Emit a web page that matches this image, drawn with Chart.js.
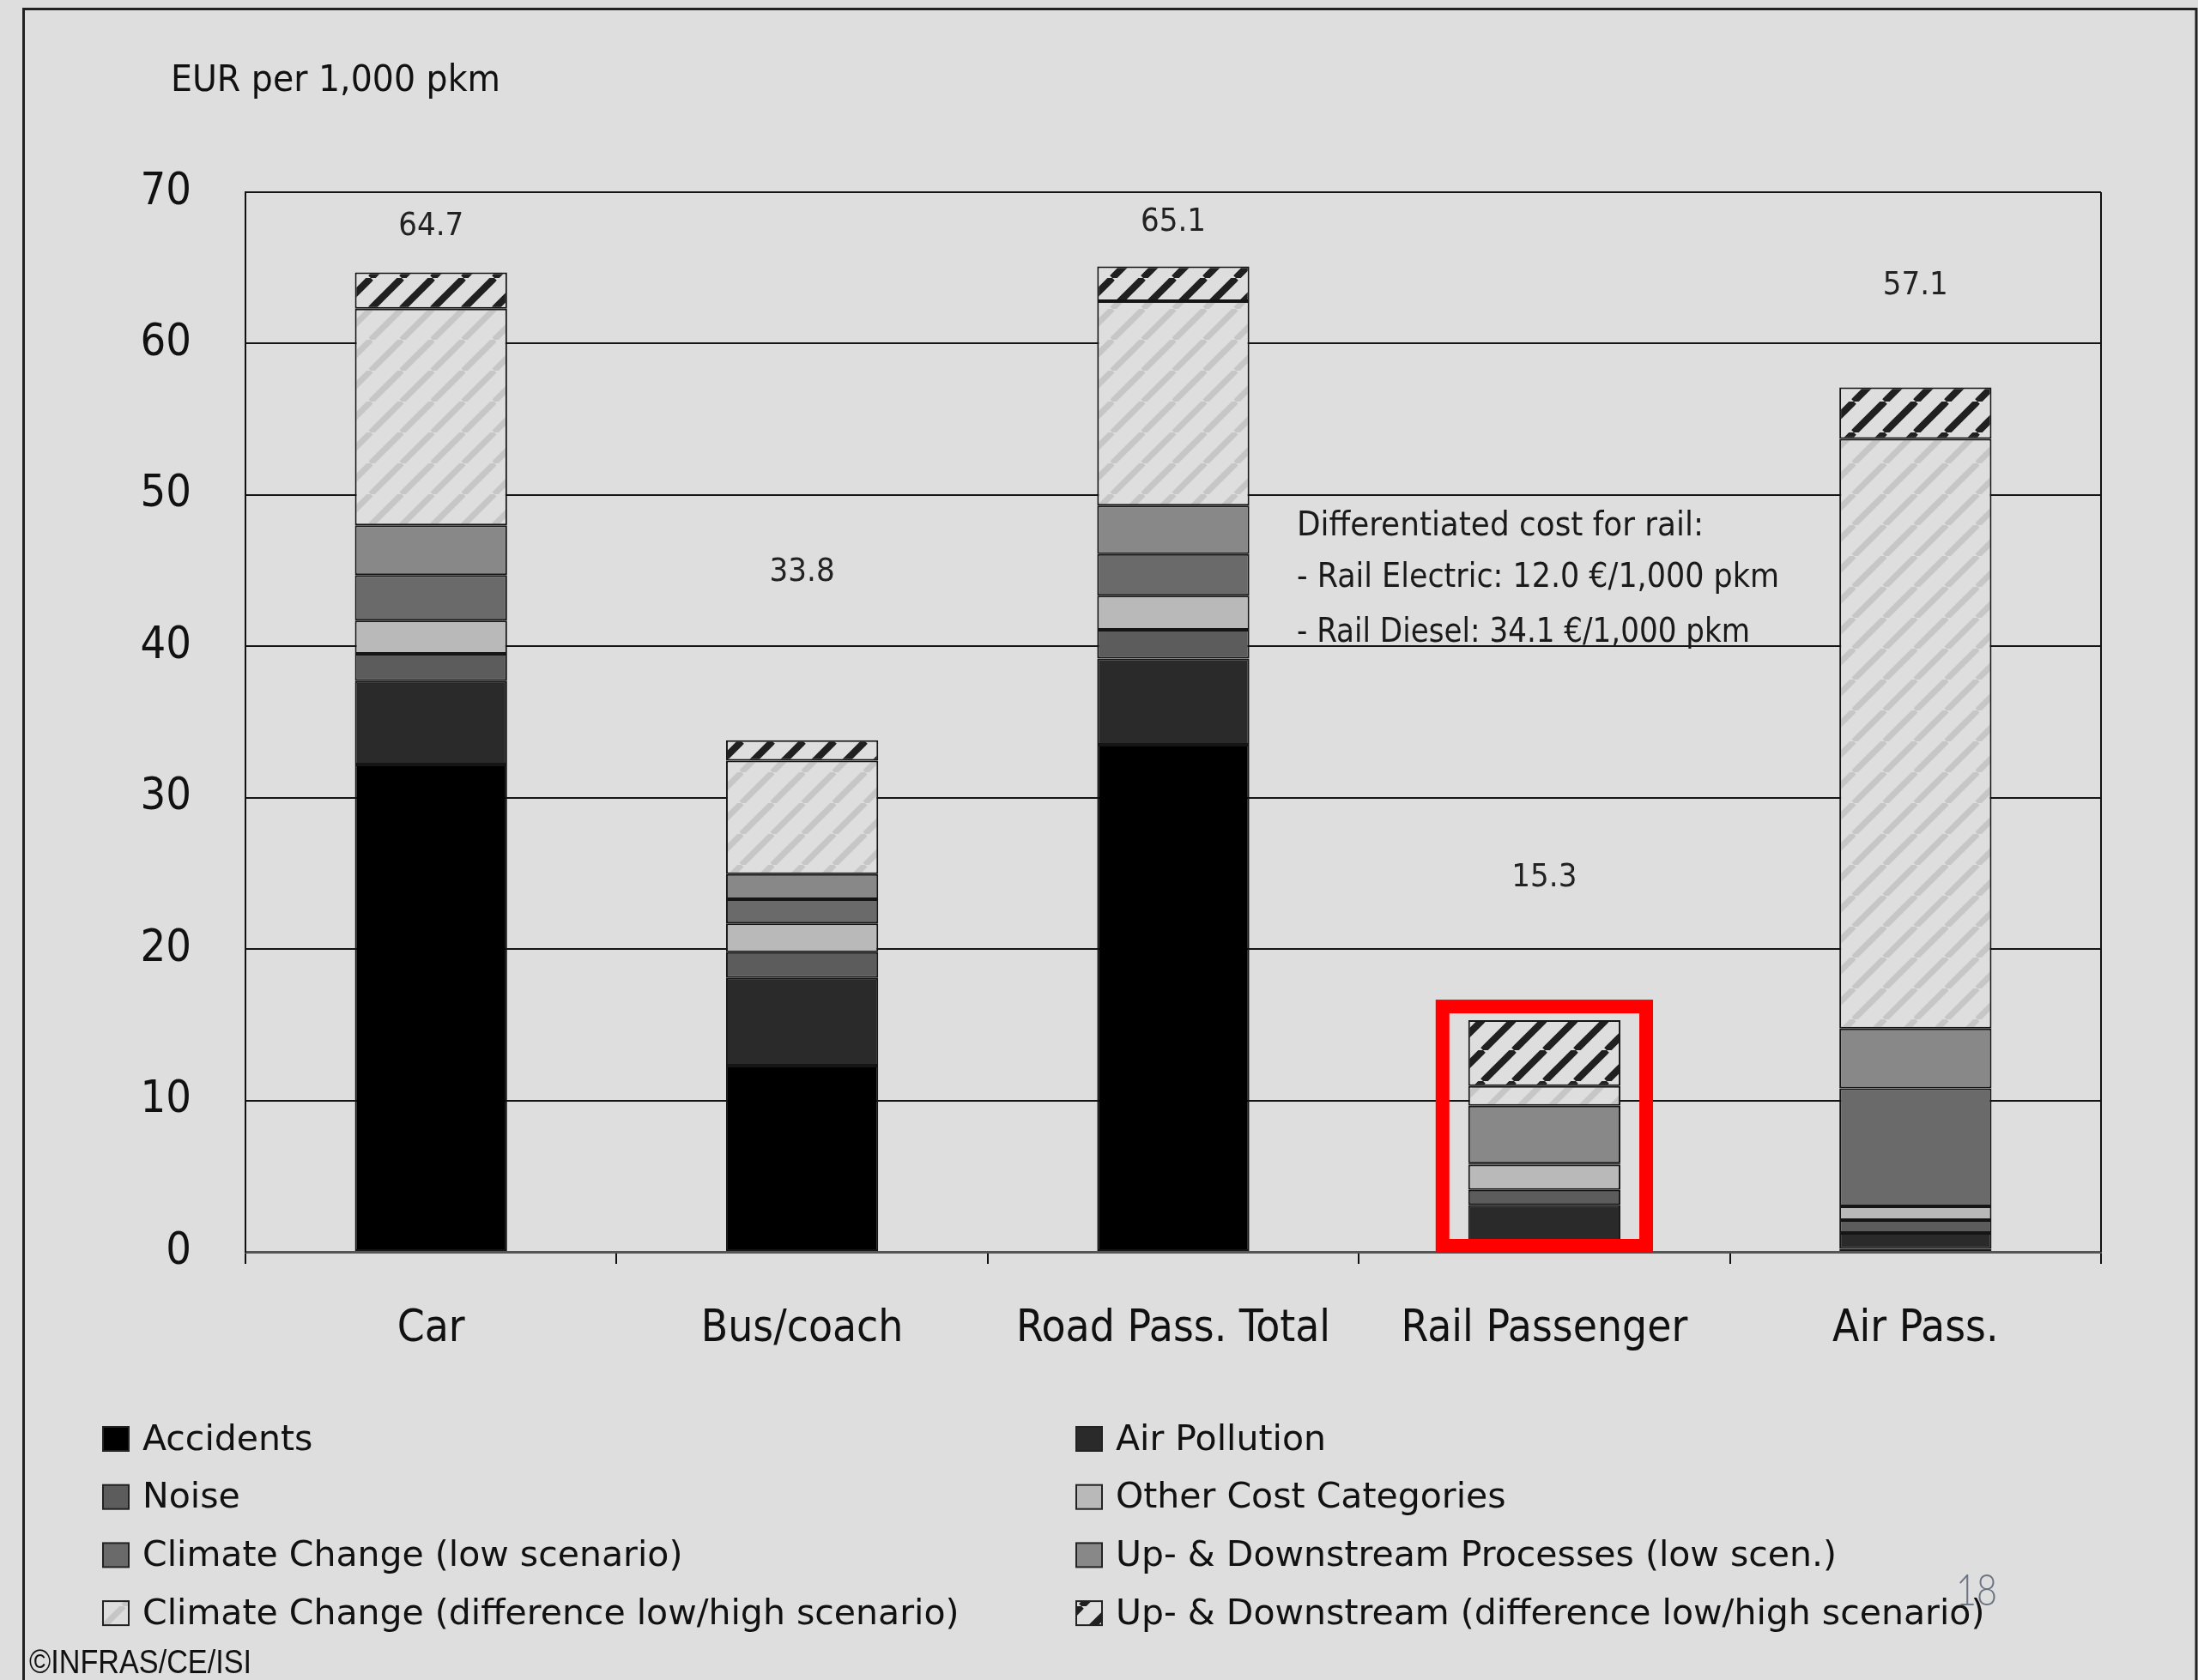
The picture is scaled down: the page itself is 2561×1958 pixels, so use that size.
<!DOCTYPE html>
<html>
<head>
<meta charset="utf-8">
<script src="https://cdn.jsdelivr.net/npm/chart.js@4.4.0/dist/chart.umd.min.js"></script>
<style>
    html, body { margin: 0; padding: 0; background: #dedede; }
    #wrap { width: 2561px; height: 1958px; position: relative; }
</style>
</head>
<body>
<div id="wrap"><canvas id="js-bar-chart" width="2561" height="1958"></canvas></div>
<script>
// EUR per 1,000 pkm, stacked bottom to top
const categories = ["Car", "Bus/coach", "Road Pass. Total", "Rail Passenger", "Air Pass."];
const accidents = [32.2, 12.3, 33.5, 0.5, 0.2];
const airPollution = [5.5, 5.8, 5.7, 2.6, 1.05];
const noise = [1.8, 1.7, 1.9, 1.0, 0.85];
const otherCosts = [2.2, 1.9, 2.25, 1.65, 0.9];
const climateLow = [3.0, 1.6, 2.75, 0.1, 7.8];
const upDownLow = [3.3, 1.65, 3.2, 3.8, 3.95];
const climateDiff = [14.3, 7.5, 13.5, 1.3, 38.95];
const upDownDiff = [2.4, 1.35, 2.3, 4.35, 3.4];
const yTicks = [0, 10, 20, 30, 40, 50, 60, 70];

// where the total labels sit (in axis units)
const totalLabelAt = [67.7, 44.9, 68.0, 24.7, 63.8];
const railNote = [
    "Differentiated cost for rail:",
    "- Rail Electric: 12.0 \u20ac/1,000 pkm",
    "- Rail Diesel: 34.1 \u20ac/1,000 pkm",
];

const FONT = '"DejaVu Sans Condensed", "Liberation Sans Narrow", "DejaVu Sans", sans-serif';
const WIDE = '"DejaVu Sans", Verdana, sans-serif';

const canvas = document.getElementById("js-bar-chart");
const ctx = canvas.getContext("2d");

const hatch = (bg, fg, lw) => {
    const s = 36;
    const c = document.createElement("canvas");
    c.width = s;
    c.height = s;
    const g = c.getContext("2d");
    g.fillStyle = bg;
    g.fillRect(0, 0, s, s);
    g.strokeStyle = fg;
    g.lineWidth = lw;
    for (const o of [-s, 0, s]) {
        g.beginPath();
        g.moveTo(o, s);
        g.lineTo(o + s, 0);
        g.stroke();
    }
    return ctx.createPattern(c, "repeat");
};

const series = [
    ["Accidents", accidents, "#000000"],
    ["Air Pollution", airPollution, "#2a2a2a"],
    ["Noise", noise, "#5c5c5c"],
    ["Other Cost Categories", otherCosts, "#b9b9b9"],
    ["Climate Change (low scenario)", climateLow, "#6a6a6a"],
    ["Up- & Downstream Processes (low scen.)", upDownLow, "#888888"],
    ["Climate Change (difference low/high scenario)", climateDiff, hatch("#dedede", "#c6c6c6", 7)],
    ["Up- & Downstream (difference low/high scenario)", upDownDiff, hatch("#dedede", "#202020", 8)],
];

// stretch or squeeze text horizontally to width w
const fitText = (c, text, x, y, w) => {
    const m = c.measureText(text).width;
    c.save();
    c.translate(x, y);
    if (w) c.scale(w / m, 1);
    c.fillText(text, 0, 0);
    c.restore();
};

const decor = {
    id: "decor",
    afterDatasetsDraw(chart) {
        const { ctx: c, chartArea: a, scales: { x, y } } = chart;
        const n = chart.data.datasets.length;
        c.save();

        // plot frame right side
        c.strokeStyle = "#111";
        c.lineWidth = 2;
        c.beginPath();
        c.moveTo(a.right, a.top);
        c.lineTo(a.right, a.bottom);
        c.stroke();

        // totals
        c.font = "38px " + FONT;
        c.fillStyle = "#222";
        c.textAlign = "center";
        c.textBaseline = "middle";
        categories.forEach((cat, i) => {
            const total = chart.data.datasets.reduce((s, d) => s + d.data[i], 0);
            c.fillText((Math.round(total * 10) / 10).toFixed(1), x.getPixelForValue(i), y.getPixelForValue(totalLabelAt[i]));
        });

        // note on rail
        c.textAlign = "left";
        c.textBaseline = "alphabetic";
        c.font = "39px " + FONT;
        c.fillStyle = "#1a1a1a";
        const nx = x.getPixelForValue(2) + 144;
        [47.35, 43.9, 40.3].forEach((v, i) => {
            fitText(c, railNote[i], nx, y.getPixelForValue(v), [474, 562, 528][i]);
        });

        // red frame around rail bar
        const bottomEl = chart.getDatasetMeta(0).data[3];
        const topEl = chart.getDatasetMeta(n - 1).data[3];
        const half = bottomEl.width / 2 + 30;
        c.strokeStyle = "#ff0000";
        c.lineWidth = 16;
        c.strokeRect(bottomEl.x - half, topEl.y - 16, half * 2, a.bottom - 7 - (topEl.y - 16));
        c.restore();
    },
    afterDraw(chart) {
        const c = chart.ctx;
        c.save();

        // outer frame
        c.strokeStyle = "#222";
        c.lineWidth = 3;
        c.beginPath();
        c.moveTo(27.5, 1958);
        c.lineTo(27.5, 10.5);
        c.lineTo(2559, 10.5);
        c.lineTo(2559, 1958);
        c.stroke();

        // axis unit
        c.fillStyle = "#111";
        c.font = "42px " + FONT;
        c.textBaseline = "alphabetic";
        fitText(c, "EUR per 1,000 pkm", 199, 106, 384);

        // legend, two columns
        c.font = "41px " + WIDE;
        c.textBaseline = "middle";
        chart.data.datasets.forEach((d, i) => {
            const col = i % 2;
            const row = Math.floor(i / 2);
            const bx = col ? 1254 : 120;
            const cy = 1677 + row * 67.7;
            c.fillStyle = d.backgroundColor;
            c.fillRect(bx, cy - 14, 30, 28);
            c.strokeStyle = "#222";
            c.lineWidth = 2;
            c.strokeRect(bx, cy - 14, 30, 28);
            c.fillStyle = "#111";
            c.fillText(d.label, bx + 46, cy + 2);
        });

        // page number and source
        c.textBaseline = "alphabetic";
        c.fillStyle = "#6c7482";
        c.font = '300 52px Lato, "Noto Sans", sans-serif';
        fitText(c, "18", 2279, 1871, 48);
        c.fillStyle = "#111";
        c.font = '38px "Liberation Sans Narrow", "Liberation Sans", Arial, sans-serif';
        fitText(c, "\u00a9INFRAS/CE/ISI", 34, 1950, 259);
        c.restore();
    },
};

new Chart(canvas, {
    type: "bar",
    data: {
        labels: categories,
        datasets: series.map(([label, data, color]) => ({
            label,
            data,
            backgroundColor: color,
            borderColor: "#151515",
            borderWidth: 2,
            borderSkipped: false,
            barPercentage: 0.41,
            categoryPercentage: 1.0,
        })),
    },
    options: {
        responsive: false,
        animation: false,
        devicePixelRatio: 1,
        events: [],
        layout: { padding: { left: 0, top: 224, right: 113, bottom: 0 } },
        plugins: { legend: { display: false }, tooltip: { enabled: false } },
        scales: {
            x: {
                stacked: true,
                offset: true,
                afterFit: (s) => { s.height = 499; },
                grid: { drawOnChartArea: false, drawTicks: true, tickLength: 14, color: "#111", lineWidth: 2 },
                border: { display: true, color: "#555", width: 3 },
                ticks: { color: "#111", padding: 46, maxRotation: 0, autoSkip: false, font: { family: FONT, size: 51 } },
            },
            y: {
                stacked: true,
                min: yTicks[0],
                max: yTicks[yTicks.length - 1],
                afterFit: (s) => { s.width = 286; },
                afterBuildTicks: (s) => { s.ticks = yTicks.map((v) => ({ value: v })); },
                grid: { color: "#151515", lineWidth: 2, drawTicks: false },
                border: { display: true, color: "#111", width: 2 },
                ticks: { color: "#111", padding: 63, font: { family: FONT, size: 52 } },
            },
        },
    },
    plugins: [decor],
});
</script>
</body>
</html>
